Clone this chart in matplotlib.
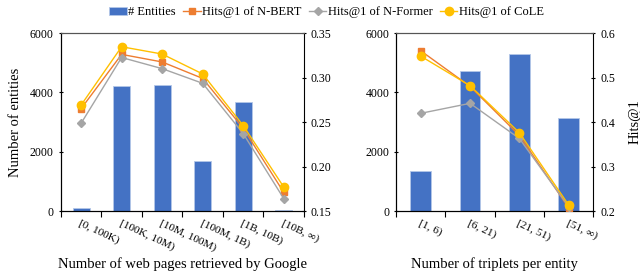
import numpy as np
import matplotlib.pyplot as plt

plt.rcParams['font.family'] = ['Liberation Serif', 'DejaVu Serif']

# Left panel: web pages retrieved by Google
pages_cats = ['[0, 100K)', '[100K, 10M)', '[10M, 100M)', '[100M, 1B)', '[1B, 10B)', '[10B, \u221e)']
pages_entities = [100, 4220, 4250, 1690, 3660, 30]
pages_nbert = [0.265, 0.326, 0.3175, 0.299, 0.243, 0.171]
pages_nformer = [0.2485, 0.3225, 0.310, 0.2935, 0.237, 0.164]
pages_cole = [0.269, 0.3346, 0.3264, 0.304, 0.246, 0.177]

# Right panel: triplets per entity
trip_cats = ['[1, 6)', '[6, 21)', '[21, 51)', '[51, \u221e)']
trip_entities = [1350, 4710, 5310, 3150]
trip_nbert = [0.560, 0.480, 0.370, 0.207]
trip_nformer = [0.4196, 0.442, 0.363, 0.210]
trip_cole = [0.548, 0.4816, 0.376, 0.2135]

BAR = '#4472C4'
ORANGE = '#ED7D31'
GRAY = '#A5A5A5'
YELLOW = '#FFC000'

fig = plt.figure(figsize=(6.4, 2.73), dpi=100)
ax1 = fig.add_axes([0.095, 0.227, 0.380, 0.652])
ax2 = fig.add_axes([0.619, 0.227, 0.308, 0.652])


def draw(ax, cats, ents, nbert, nformer, cole, ylim2, yticks2, xlabel):
    x = np.arange(len(cats))
    bars = ax.bar(x, ents, width=0.42, color=BAR, edgecolor='#B4C7E7', linewidth=0.6,
                  label='# Entities', zorder=2)
    ax.set_ylim(0, 6000)
    ax.set_yticks([0, 2000, 4000, 6000])
    ax.set_xlim(-0.5, len(cats) - 0.5)
    ax.set_xticks(np.arange(len(cats) + 1) - 0.5)
    ax.set_xticklabels([])
    ax.set_xticks(x, minor=True)
    ax.set_xticklabels(cats, minor=True, rotation=-25, ha='left', va='top',
                       rotation_mode='anchor', fontsize=8.2)
    ax.tick_params(axis='x', which='minor', length=0, pad=5)
    ax.tick_params(axis='x', which='major', length=4, direction='out')
    ax.tick_params(axis='y', length=3, direction='inout', labelsize=8.5)
    ax.set_xlabel(xlabel, fontsize=10.5)
    ax.xaxis.set_label_coords(0.5, -0.26)
    for s in ['left', 'bottom']:
        ax.spines[s].set_color('black')
    ax.spines['top'].set_color('#555555')
    ax.spines['right'].set_visible(False)

    axr = ax.twinx()
    l1, = axr.plot(x, nbert, color=ORANGE, marker='s', markersize=4, linewidth=1.0,
                   label='Hits@1 of N-BERT', zorder=3)
    l2, = axr.plot(x, nformer, color=GRAY, marker='D', markersize=4, linewidth=1.0,
                   label='Hits@1 of N-Former', zorder=3)
    l3, = axr.plot(x, cole, color=YELLOW, marker='o', markersize=6, linewidth=1.0,
                   label='Hits@1 of CoLE', zorder=4)
    axr.set_ylim(*ylim2)
    axr.set_yticks(yticks2)
    axr.tick_params(axis='y', length=3, direction='inout', labelsize=8.5)
    axr.spines['right'].set_color('black')
    axr.spines['top'].set_color('#555555')
    return axr, [bars, l1, l2, l3]


ax1r, handles = draw(ax1, pages_cats, pages_entities, pages_nbert, pages_nformer, pages_cole,
                     (0.15, 0.35), [0.15, 0.20, 0.25, 0.30, 0.35],
                     'Number of web pages retrieved by Google')
ax1r.set_yticklabels(['0.15', '0.20', '0.25', '0.30', '0.35'])
ax1.set_ylabel('Number of entities', fontsize=10.5, labelpad=6)

ax2r, _ = draw(ax2, trip_cats, trip_entities, trip_nbert, trip_nformer, trip_cole,
               (0.2, 0.6), [0.2, 0.3, 0.4, 0.5, 0.6],
               'Number of triplets per entity')
ax2r.set_ylabel('Hits@1', fontsize=10.5, labelpad=10)

fig.legend(handles, [h.get_label() for h in handles], loc='center', ncol=4,
           bbox_to_anchor=(0.51, 0.955), frameon=False, fontsize=9,
           handlelength=1.4, handletextpad=0.1, columnspacing=0.6)

fig.savefig('out.png', dpi=100)
